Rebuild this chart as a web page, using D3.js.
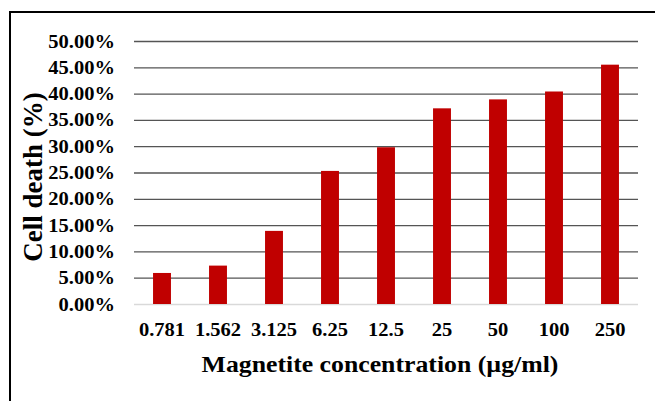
<!DOCTYPE html>
<html>
<head>
<meta charset="utf-8">
<script src="https://cdn.jsdelivr.net/npm/d3@7"></script>
<style>
  body { margin: 0; background: #fff; }
  text { font-family: "Liberation Serif", "Times New Roman", serif; font-weight: bold; }
</style>
</head>
<body>
<div id="wrapper"></div>
<script>
// data
const concentrations = ["0.781", "1.562", "3.125", "6.25", "12.5", "25", "50", "100", "250"]
const cellDeath = [0.059, 0.073, 0.139, 0.253, 0.298, 0.372, 0.389, 0.404, 0.455]
const yTicks = [0, 0.05, 0.10, 0.15, 0.20, 0.25, 0.30, 0.35, 0.40, 0.45, 0.50]

const width = 655
const height = 401
const dimensions = {
  width: width,
  height: height,
  margin: { top: 41, right: 17, bottom: 97, left: 134 }
}
dimensions.boundedWidth = dimensions.width - dimensions.margin.left - dimensions.margin.right
dimensions.boundedHeight = dimensions.height - dimensions.margin.top - dimensions.margin.bottom

// the source figure's text is a bit stretched sideways
const stretch = function(sel, k) {
  sel.each(function() {
    const len = this.getComputedTextLength()
    d3.select(this)
      .attr("textLength", len * k)
      .attr("lengthAdjust", "spacingAndGlyphs")
  })
}

const svg = d3.select("#wrapper")
  .append("svg")
  .attr("width", dimensions.width)
  .attr("height", dimensions.height)

// outer frame (only top and left edges visible)
svg.append("path")
  .attr("d", `M10,${height} V12 H${width}`)
  .attr("fill", "none")
  .attr("stroke", "#000")
  .attr("stroke-width", 2)

const bounds = svg.append("g")
  .attr("transform", `translate(${dimensions.margin.left},${dimensions.margin.top})`)

const xScale = d3.scaleBand()
  .domain(concentrations)
  .range([0, dimensions.boundedWidth])
  .paddingInner(0.68)
  .paddingOuter(0.34)

const yScale = d3.scaleLinear()
  .domain([0, 0.5])
  .range([dimensions.boundedHeight, 0])

// gridlines + y labels
const yAxis = d3.axisLeft(yScale)
  .tickValues(yTicks)
  .tickFormat(d3.format(".2%"))
  .tickSize(-dimensions.boundedWidth)
  .tickPadding(19)
const yAxisGroup = bounds.append("g").call(yAxis)
yAxisGroup.select(".domain").remove()
yAxisGroup.selectAll(".tick line")
  .attr("stroke", d => d === 0 ? "#d9d9d9" : "#555")
  .attr("stroke-width", d => d === 0 ? 1.5 : 1.3)
yAxisGroup.selectAll(".tick text")
  .attr("fill", "#000")
  .style("font-size", "19px")
  .style("font-family", "Liberation Serif, serif")
  .style("font-weight", "bold")
  .call(stretch, 1.08)

// bars
bounds.append("g")
  .selectAll("rect")
  .data(cellDeath)
  .join("rect")
  .attr("x", (d, i) => xScale(concentrations[i]))
  .attr("y", d => yScale(d))
  .attr("width", xScale.bandwidth())
  .attr("height", d => dimensions.boundedHeight - yScale(d))
  .attr("fill", "#c00000")

// x labels
const xAxis = d3.axisBottom(xScale).tickSize(0).tickPadding(19)
const xAxisGroup = bounds.append("g")
  .attr("transform", `translate(0,${dimensions.boundedHeight})`)
  .call(xAxis)
xAxisGroup.select(".domain").remove()
xAxisGroup.selectAll(".tick text")
  .attr("fill", "#000")
  .style("font-size", "19px")
  .style("font-family", "Liberation Serif, serif")
  .style("font-weight", "bold")
  .call(stretch, 1.08)

// axis titles
svg.append("text")
  .attr("x", 380)
  .attr("y", 372)
  .attr("text-anchor", "middle")
  .style("font-size", "23px")
  .text("Magnetite concentration (µg/ml)")
  .call(stretch, 1.12)

svg.append("text")
  .attr("transform", "translate(42,177) rotate(-90)")
  .attr("text-anchor", "middle")
  .style("font-size", "27px")
  .text("Cell death (%)")
</script>
</body>
</html>
